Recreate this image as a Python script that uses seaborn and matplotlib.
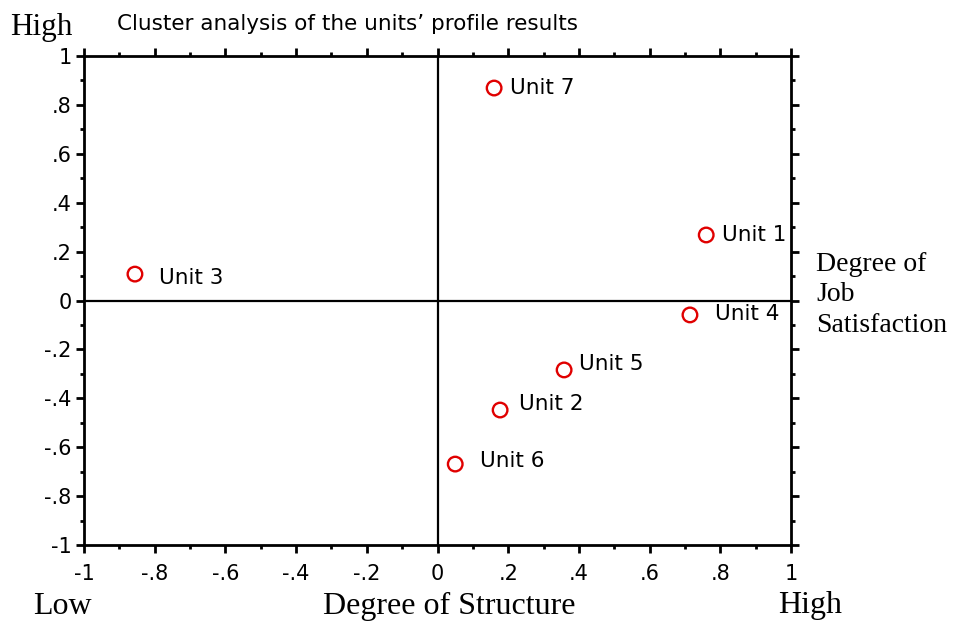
import numpy as np
import pandas as pd
import seaborn as sns
import matplotlib.pyplot as plt
from matplotlib.ticker import MultipleLocator, FuncFormatter

# unit positions
units = ['Unit 1', 'Unit 2', 'Unit 3', 'Unit 4', 'Unit 5', 'Unit 6', 'Unit 7']
structure = [0.76, 0.177, -0.856, 0.714, 0.358, 0.05, 0.16]
satisfaction = [0.268, -0.448, 0.108, -0.059, -0.284, -0.669, 0.869]

# label offsets in pixels (dx, dy)
label_offsets = [(16, 0), (19, 6), (24, -4), (25, 1), (15, 6), (25, 3), (16, 0)]

df = pd.DataFrame({'unit': units, 'x': structure, 'y': satisfaction})

sns.set_style("ticks")
plt.rcParams['font.family'] = ['DejaVu Sans']
plt.rcParams['text.color'] = 'black'
plt.rcParams['xtick.color'] = 'black'
plt.rcParams['ytick.color'] = 'black'

fig = plt.figure(figsize=(9.66, 6.23), dpi=100)
ax = fig.add_axes([0.087, 0.1252, 0.7319, 0.7849])

ax.axhline(0, color='black', lw=1.6, zorder=1)
ax.axvline(0, color='black', lw=1.6, zorder=1)

sns.scatterplot(data=df, x='x', y='y', ax=ax, s=110, marker='o',
                facecolor='none', edgecolor='#e00000', linewidth=1.7, zorder=3)

for (name, x, y), (dx, dy) in zip(zip(units, structure, satisfaction), label_offsets):
    ax.annotate(name, (x, y), xytext=(dx, dy), textcoords='offset pixels',
                ha='left', va='center', fontsize=15.5, color='black')

ax.set_xlim(-1, 1)
ax.set_ylim(-1, 1)
ax.xaxis.set_major_locator(MultipleLocator(0.2))
ax.yaxis.set_major_locator(MultipleLocator(0.2))
ax.xaxis.set_minor_locator(MultipleLocator(0.1))
ax.yaxis.set_minor_locator(MultipleLocator(0.1))


def fmt(v, pos):
    v = round(v, 1)
    if v == 0:
        return '0'
    if abs(v) == 1:
        return '%d' % v
    s = ('%.1f' % v).replace('0.', '.')
    return s


ax.xaxis.set_major_formatter(FuncFormatter(fmt))
ax.yaxis.set_major_formatter(FuncFormatter(fmt))
ax.tick_params(which='both', direction='out', top=True, right=True,
               labeltop=False, labelright=False, color='black',
               labelcolor='black', labelsize=15)
ax.tick_params(axis='x', which='major', length=6, width=2, pad=8)
ax.tick_params(axis='y', which='major', length=6, width=2, pad=3)
ax.tick_params(which='minor', length=3, width=2)
for sp in ax.spines.values():
    sp.set_linewidth(2)
    sp.set_color('black')
    sp.set_visible(True)

ax.set_xlabel('')
ax.set_ylabel('')

serif = 'Liberation Serif'
fig.text(10 / 966, 1 - 28 / 623, 'High', family=serif, fontsize=22.5, ha='left', va='center')
fig.text(117 / 966, 1 - 24 / 623, 'Cluster analysis of the units\u2019 profile results',
         fontsize=15.5, ha='left', va='center')
fig.text(62 / 966, 1 - 606 / 623, 'Low', family=serif, fontsize=23, ha='center', va='center')
fig.text(449 / 966, 1 - 606 / 623, 'Degree of Structure', family=serif, fontsize=23,
         ha='center', va='center')
fig.text(810 / 966, 1 - 606 / 623, 'High', family=serif, fontsize=23, ha='center', va='center')
fig.text(816 / 966, 1 - 295 / 623, 'Degree of\nJob\nSatisfaction', family=serif, fontsize=20,
         ha='left', va='center', linespacing=1.28)

fig.savefig('out.png', dpi=100)
